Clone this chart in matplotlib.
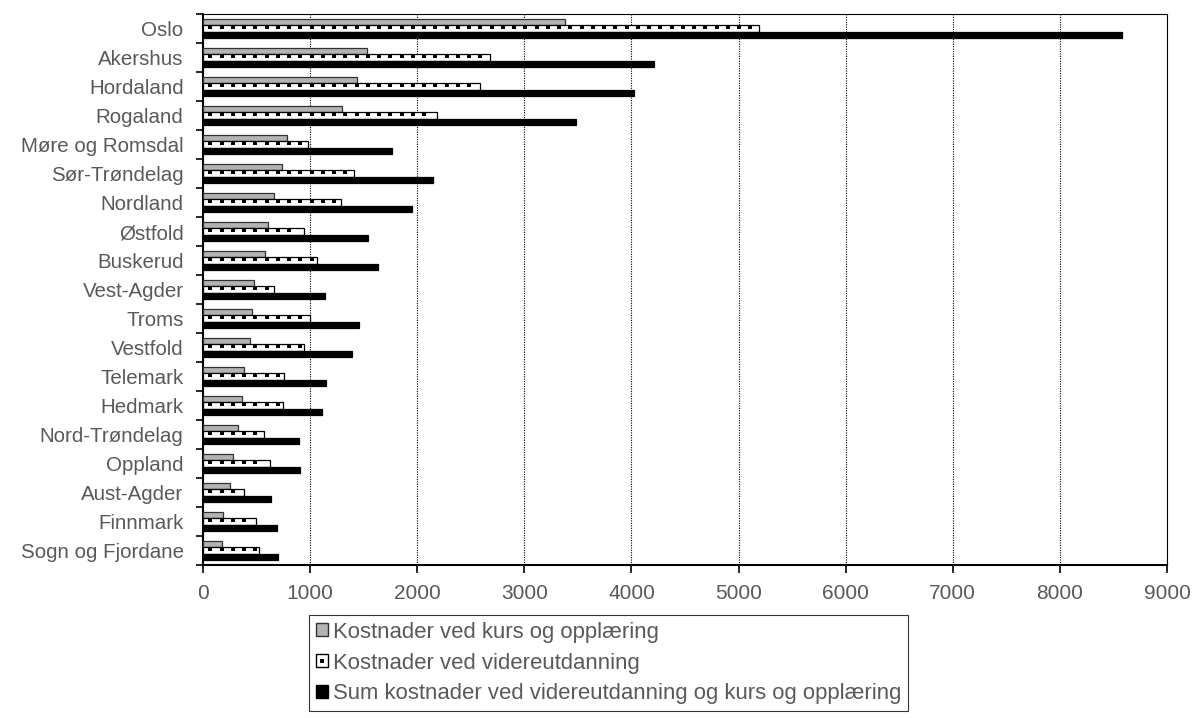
import numpy as np
import matplotlib
matplotlib.use("Agg")
import matplotlib.pyplot as plt
from matplotlib.patches import Patch
from matplotlib.lines import Line2D

# ---------------------------------------------------------------------------
# Data
# ---------------------------------------------------------------------------

counties = [
    "Oslo", "Akershus", "Hordaland", "Rogaland", "Møre og Romsdal",
    "Sør-Trøndelag", "Nordland", "Østfold", "Buskerud", "Vest-Agder",
    "Troms", "Vestfold", "Telemark", "Hedmark", "Nord-Trøndelag",
    "Oppland", "Aust-Agder", "Finnmark", "Sogn og Fjordane",
]
kurs = [3380, 1530, 1434, 1302, 784, 740, 662, 606, 578, 472,
        453, 440, 387, 368, 325, 278, 256, 187, 175]
videre = [5190, 2680, 2583, 2186, 981, 1409, 1287, 940, 1062, 665,
          1000, 946, 759, 746, 571, 621, 381, 496, 521]
total = [8580, 4210, 4020, 3486, 1765, 2149, 1949, 1540, 1637, 1137,
         1452, 1387, 1146, 1115, 896, 903, 637, 687, 699]

labels = [
    "Kostnader ved kurs og opplæring",
    "Kostnader ved videreutdanning",
    "Sum kostnader ved videreutdanning og kurs og opplæring",
]

TEXT = "#595959"
GRAY = "#b3b3b3"
plt.rcParams["font.family"] = ["Liberation Sans", "DejaVu Sans"]

fig = plt.figure(figsize=(11.95, 7.18), dpi=100)
ax = fig.add_axes([203 / 1195, 1 - 565 / 718, (1167 - 203) / 1195, (565 - 14) / 718])

y = np.arange(len(counties))
h = 0.225

ax.barh(y - h, kurs, height=h, color=GRAY, edgecolor="#333333", linewidth=0.9, zorder=3)
ax.barh(y, videre, height=h, color="white", edgecolor="black", linewidth=0.9, zorder=3)
ax.barh(y + h, total, height=h, color="black", edgecolor="black", linewidth=0.9, zorder=3)

# dotted fill pattern of the "videreutdanning" bars: one row of small squares
step = 105
for yi, v in zip(y, videre):
    xs = np.arange(70, v - 30, step)
    ax.scatter(xs, np.full(len(xs), yi - h * 0.2), marker="s", s=5,
               color="black", linewidths=0, zorder=4)

ax.set_ylim(len(counties) - 0.5, -0.5)
ax.set_xlim(0, 9000)
ax.set_xticks(range(0, 9001, 1000))
ax.set_yticks(y)
ax.set_yticklabels(counties)
ax.set_yticks(np.arange(-0.5, len(counties), 1), minor=True)
ax.tick_params(axis="y", which="major", length=0, pad=14, labelsize=14.8, labelcolor=TEXT)
ax.tick_params(axis="y", which="minor", length=5, width=1.2, direction="out")
ax.tick_params(axis="x", length=6, width=1.2, direction="out", labelsize=15, labelcolor=TEXT, pad=8)

ax.grid(axis="x", color="black", linestyle=(0, (1, 1.2)), linewidth=0.8, zorder=0)
for s in ["top", "right"]:
    ax.spines[s].set_linewidth(0.8)
for s in ["left", "bottom"]:
    ax.spines[s].set_linewidth(1.5)

dot = Line2D([], [], marker="s", markersize=2.5, color="black", linestyle="none",
             markeredgewidth=0)
handles = [
    Patch(facecolor=GRAY, edgecolor="#333333", label=labels[0]),
    (Patch(facecolor="white", edgecolor="black"), dot),
    Patch(facecolor="black", edgecolor="black", label=labels[2]),
]
leg = fig.legend(handles=handles, labels=labels, loc="upper left",
                 bbox_to_anchor=(309 / 1195, 1 - 615 / 718),
                 frameon=True, fancybox=False, fontsize=15.9,
                 handlelength=0.55, handleheight=0.55, handletextpad=0.25,
                 labelspacing=0.45, borderpad=0.3, borderaxespad=0)
leg.get_frame().set_edgecolor("black")
leg.get_frame().set_linewidth(0.8)
for t in leg.get_texts():
    t.set_color(TEXT)

fig.savefig("out.png", dpi=100)
